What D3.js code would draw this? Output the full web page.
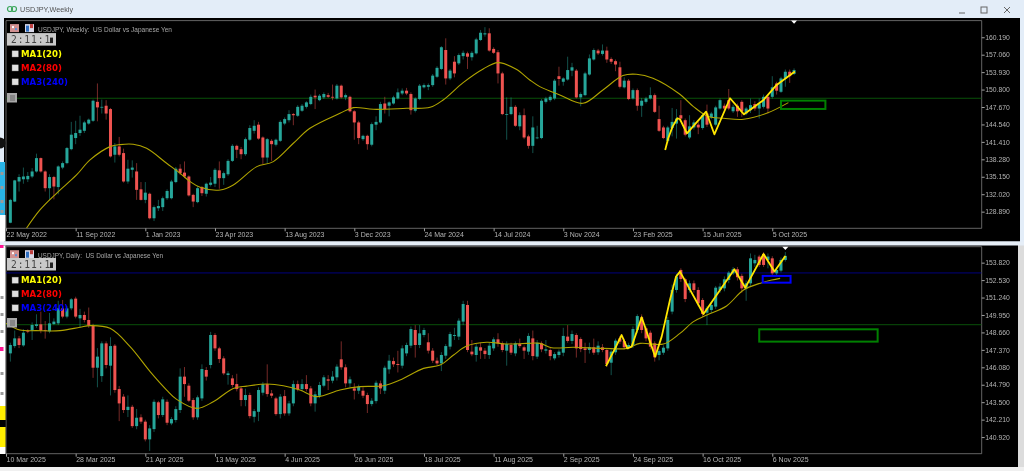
<!DOCTYPE html>
<html><head><meta charset="utf-8">
<script src="https://cdn.jsdelivr.net/npm/d3@7/dist/d3.min.js"></script>
<style>
html,body{margin:0;padding:0;background:#000;overflow:hidden}
svg{display:block;filter:blur(0.42px)}
text{font-family:"Liberation Sans",Arial,sans-serif}
</style></head><body>
<script>
// ---------- Weekly USDJPY candles (bar 1 .. 181) ----------
const weeklyOpen=[126.9,130.7,134.3,134.7,134.7,135.2,136.1,138.5,136.1,133.1,135.1,133.3,136.8,137.6,140.1,142.1,143.0,143.4,144.7,145.2,148.6,147.6,147.9,147.3,139.1,140.6,139.4,134.3,136.4,136.1,132.9,131.0,132.1,127.7,129.5,129.7,131.3,131.3,134.2,136.6,135.9,135.2,131.9,130.6,133.3,132.1,133.7,133.9,136.3,134.9,135.6,138.0,140.7,140.1,139.2,141.8,143.4,144.5,142.2,138.6,141.6,140.9,141.6,144.7,145.3,146.4,146.1,147.0,147.7,148.2,149.7,148.9,149.4,149.8,149.5,149.2,
151.5,149.4,149.5,146.9,144.9,141.9,142.5,140.9,144.5,144.9,148.3,147.9,148.3,149.2,150.1,150.6,150.0,147.0,149.1,151.2,151.3,151.6,153.1,154.5,157.9,152.8,155.8,155.5,156.8,157.3,156.6,157.3,159.7,160.7,160.9,158.1,157.5,153.7,146.3,146.4,147.7,144.2,146.2,142.4,140.7,142.2,142.1,148.6,148.9,149.2,153.2,152.2,152.6,154.2,154.2,149.4,149.8,153.5,156.2,157.8,157.2,157.8,156.3,155.9,154.8,151.2,152.4,149.2,150.7,147.9,148.6,149.2,149.8,145.5,144.0,141.6,143.9,144.7,
146.2,145.3,142.2,144.0,144.5,143.9,146.5,145.8,144.5,147.4,147.9,148.9,146.9,147.9,148.6,146.5,147.1,148.2,147.4,147.7,149.5,149.5,151.9,150.4,152.8,154.0,153.6];
const weeklyHigh=[131.2,134.6,135.6,136.8,136.0,136.7,139.3,138.6,136.3,135.6,135.3,137.2,137.9,140.5,145.0,145.2,146.1,145.2,145.6,149.0,151.9,149.0,148.9,147.5,141.2,142.3,140.2,138.2,138.1,137.6,134.2,134.2,132.3,130.0,131.0,131.6,132.9,134.6,136.9,137.4,137.9,135.4,132.1,133.5,133.5,134.1,135.1,136.7,137.9,136.1,138.3,141.0,140.9,140.5,142.2,144.4,145.3,145.0,142.4,142.1,141.9,142.0,145.3,145.8,147.1,146.6,148.0,148.2,148.7,149.9,150.8,150.0,150.3,150.2,151.7,151.8,
151.7,150.1,149.7,147.1,145.2,142.7,142.7,144.9,146.0,148.6,149.5,148.7,149.7,151.0,151.0,151.1,150.3,149.4,151.8,151.9,151.9,153.6,155.0,158.6,160.0,154.5,156.8,157.3,157.8,157.6,157.7,160.1,161.5,162.0,161.8,158.4,157.9,154.0,149.4,149.4,148.0,146.7,147.4,142.7,146.0,144.3,149.1,149.5,149.8,152.7,154.9,153.0,156.7,155.6,154.5,150.3,154.0,157.1,158.2,158.1,158.9,158.5,156.6,156.2,155.8,153.0,152.7,151.0,151.0,149.3,149.5,151.2,150.1,147.9,144.3,144.3,147.5,147.3,
148.9,145.6,146.2,145.3,145.0,146.6,148.1,146.8,147.9,149.2,148.3,150.9,148.1,148.3,148.9,147.7,149.2,148.7,149.2,149.9,149.8,153.2,152.2,153.1,154.4,154.4,154.6];
const weeklyLow=[126.8,130.6,132.5,133.9,134.2,134.9,135.9,135.9,132.5,130.9,131.1,132.0,136.5,137.4,139.9,141.0,142.5,143.0,144.5,145.0,145.1,146.5,145.4,138.6,137.7,138.8,134.1,133.9,135.0,131.0,130.9,130.4,127.5,127.2,129.0,129.0,131.0,131.1,134.0,135.5,134.9,131.6,129.7,130.4,131.7,131.6,133.4,133.3,133.0,133.7,135.3,137.8,138.5,138.3,138.9,141.6,142.9,141.8,137.4,137.5,138.0,140.6,141.4,144.4,144.9,144.4,145.9,146.8,147.4,148.0,147.3,148.7,149.1,149.3,148.9,149.0,
149.2,148.9,146.7,141.8,141.0,141.6,140.0,140.6,143.5,144.7,146.5,146.0,148.1,149.0,149.8,149.8,146.3,146.7,148.9,151.0,150.7,151.3,152.9,154.3,151.7,152.5,153.0,155.2,156.2,154.5,156.0,157.1,159.5,160.3,157.6,157.2,151.9,146.2,141.8,146.2,144.1,143.5,141.9,140.2,139.4,141.9,141.9,148.3,148.6,148.9,151.5,151.5,152.4,153.2,149.2,147.8,149.6,153.3,156.0,157.0,156.9,155.6,155.4,154.1,151.0,151.0,148.9,149.0,147.0,145.9,148.3,149.0,146.6,143.2,141.9,141.2,142.4,142.0,
145.4,142.4,141.9,143.6,142.8,143.6,144.1,145.5,144.2,147.2,147.0,147.1,146.6,145.9,145.9,146.2,146.6,147.0,145.6,147.4,146.5,149.2,149.9,150.2,151.3,152.0,153.4];
const weeklyClose=[131.0,134.5,135.1,135.2,135.3,136.1,138.5,136.1,133.1,135.1,133.4,137.0,137.6,140.3,142.7,143.0,143.6,144.9,145.4,148.8,147.6,147.7,146.5,138.8,140.6,139.1,134.3,136.6,136.8,132.8,131.0,132.3,127.7,129.7,129.9,131.3,132.6,134.3,136.6,135.8,135.2,131.8,130.7,133.1,132.2,133.9,134.1,136.4,134.9,135.8,138.0,140.7,140.0,139.2,141.9,143.9,144.3,142.0,138.6,141.9,141.0,141.8,145.0,145.5,146.4,146.2,147.7,147.9,148.5,149.5,149.4,149.7,150.0,149.5,149.4,151.5,
149.4,149.8,146.9,144.9,142.1,142.5,141.0,144.6,145.0,148.2,147.3,148.5,149.4,150.3,150.6,150.1,147.1,149.2,151.5,151.6,151.6,153.3,154.7,158.4,152.8,154.2,153.7,157.0,157.4,156.7,157.4,159.8,161.0,160.9,157.8,157.4,153.7,146.4,146.4,147.7,144.3,146.2,142.2,140.7,144.0,142.2,148.8,149.2,149.5,152.4,152.7,152.8,154.3,154.8,149.4,150.0,153.7,156.4,157.9,157.3,157.8,156.2,155.8,155.3,151.3,152.4,149.1,150.7,147.9,148.8,149.2,149.8,146.8,143.4,142.1,144.0,145.0,145.6,
145.6,142.7,144.2,144.9,144.0,146.2,144.5,146.5,147.6,148.9,147.4,147.4,147.7,146.9,146.9,147.4,148.0,147.4,148.3,149.5,147.4,151.2,150.6,152.8,154.0,153.2,154.3];
// ---------- Daily USDJPY candles (bar 1 .. 179) ----------
const dailyOpen=[147.11,147.65,148.22,147.70,148.79,148.79,149.14,149.26,148.84,148.74,149.28,149.33,150.44,149.83,150.44,151.16,149.70,149.95,149.58,149.16,146.05,145.43,147.85,146.20,147.68,144.47,143.91,142.92,143.16,141.73,142.38,142.06,140.75,141.51,143.49,142.55,143.53,141.93,142.18,142.92,145.39,144.72,143.66,142.38,143.78,145.88,146.25,148.47,147.48,146.74,145.51,145.26,144.84,144.52,143.66,144.03,142.42,142.79,144.20,144.84,144.15,143.78,142.62,143.95,142.67,143.41,144.84,144.47,144.84,144.52,143.41,143.98,144.72,145.19,145.09,145.34,
146.67,146.08,144.89,144.52,144.35,144.35,144.03,143.36,143.58,144.89,144.35,145.93,146.54,146.32,146.20,147.11,147.68,148.84,147.73,148.47,147.93,147.31,146.57,146.37,146.94,147.61,148.40,148.35,149.46,150.69,147.24,146.99,147.56,147.31,146.99,147.48,148.15,147.85,147.31,147.73,147.11,147.80,147.56,147.24,148.22,146.87,147.85,147.31,147.36,146.74,146.99,147.16,148.35,148.03,148.47,148.17,147.48,147.36,147.56,147.19,147.56,147.36,146.42,147.19,148.22,148.02,147.56,147.68,148.84,149.78,148.96,148.64,147.85,146.99,147.16,147.48,150.20,151.80,
153.28,152.59,151.80,152.29,151.80,151.06,150.12,150.32,150.57,151.80,151.92,152.54,153.03,153.33,152.84,151.92,152.29,153.77,154.27,154.46,154.02,154.14,153.03,153.23,154.02];
const dailyHigh=[147.9,148.8,148.4,148.9,148.9,149.4,150.0,150.2,149.5,150.1,149.7,151.0,151.06,150.6,151.2,151.3,150.4,150.2,150.5,149.3,147.5,148.0,148.0,148.3,147.8,144.7,144.1,144.0,143.3,143.0,142.6,142.2,141.8,143.7,143.6,143.9,143.7,142.4,143.2,146.0,146.1,144.9,143.8,144.0,146.3,146.1,148.7,148.6,147.6,146.9,145.8,145.5,145.6,144.7,144.5,144.2,143.0,144.6,145.0,146.3,144.4,143.9,144.1,144.4,143.6,145.1,145.1,145.2,145.5,144.7,144.3,145.0,145.5,145.5,145.8,146.3,
148.0,146.3,145.4,144.9,144.8,144.6,144.2,143.8,145.1,145.1,146.2,147.0,146.8,147.3,147.7,147.9,149.1,149.2,149.2,149.0,148.6,147.5,146.8,147.2,147.8,148.7,149.0,149.7,151.0,151.0,148.1,147.8,147.9,147.5,147.9,148.3,148.6,148.0,148.0,147.9,148.0,148.2,147.7,148.6,148.8,148.1,148.0,148.1,147.5,147.2,147.4,149.0,149.2,148.8,148.6,148.3,147.9,147.9,148.2,148.0,147.8,147.5,147.4,148.2,148.4,148.2,147.9,149.1,150.0,150.0,149.1,148.8,148.0,147.4,147.7,149.8,152.2,153.0,
153.4,152.7,152.5,152.5,152.0,151.2,150.6,150.9,152.1,152.3,152.8,153.2,153.5,153.5,153.0,152.5,154.5,154.4,154.4,154.6,154.5,154.3,153.5,154.2,154.6];
const dailyLow=[146.5,147.5,147.5,147.6,148.6,148.1,149.0,148.6,148.2,148.6,149.2,149.2,149.7,149.7,150.3,149.7,149.0,149.4,149.0,145.3,144.6,145.0,146.0,144.0,144.2,142.1,142.7,142.4,141.6,141.5,141.9,140.6,139.9,141.3,142.3,142.4,141.8,141.8,142.0,142.7,143.9,143.5,142.2,142.2,143.6,145.1,146.0,147.3,146.4,145.5,144.8,144.6,144.3,143.2,143.2,142.3,142.0,142.1,144.0,143.9,143.8,142.5,142.3,142.5,142.5,143.2,144.3,144.3,144.3,143.2,142.8,143.8,144.6,144.4,144.9,145.1,
145.9,144.6,144.6,143.7,144.1,143.8,142.7,143.2,143.4,144.1,144.1,145.6,146.1,145.7,146.0,146.9,147.5,146.8,147.5,148.3,147.1,146.4,146.2,145.8,146.7,147.4,148.1,148.1,149.2,147.2,146.9,146.5,146.7,146.7,146.7,147.3,147.6,147.2,146.2,147.0,146.9,147.5,146.7,147.0,146.6,146.7,147.2,147.1,146.6,146.6,146.8,146.9,147.9,147.8,146.8,147.2,146.4,147.1,147.0,147.0,147.2,146.1,145.5,147.0,147.8,147.4,147.4,147.5,148.6,148.6,148.0,147.4,146.5,146.6,147.0,147.3,150.0,151.6,
152.4,150.9,151.6,151.6,150.6,149.8,149.2,150.1,150.4,151.6,151.7,152.3,152.9,152.5,151.6,151.0,152.1,153.5,153.5,153.5,153.4,152.9,152.9,153.1,153.9];
const dailyClose=[147.73,148.22,147.73,148.64,148.72,149.21,149.26,148.79,148.79,149.33,149.46,150.44,149.83,150.44,151.11,149.83,149.95,149.58,149.18,146.05,146.87,147.85,146.25,147.65,144.40,143.41,142.92,143.16,141.73,142.35,142.06,140.75,141.56,143.53,142.55,143.71,141.98,142.25,142.99,145.39,144.84,143.61,142.38,143.86,145.95,145.39,148.47,147.48,146.69,145.63,145.63,144.77,144.47,143.66,144.03,142.47,142.84,144.40,144.84,144.10,143.98,142.62,143.91,142.67,143.41,144.84,144.47,144.84,144.47,143.41,144.08,144.77,145.34,145.09,145.39,146.13,
146.08,144.89,145.19,144.35,144.65,143.98,143.36,143.61,144.94,144.52,146.05,146.57,146.30,146.25,147.48,147.73,148.91,147.73,148.59,148.84,147.31,146.57,146.37,146.99,147.65,148.54,148.47,149.53,150.76,147.36,147.04,147.61,147.31,147.06,147.68,148.15,147.85,147.36,147.80,147.16,147.85,147.65,147.31,148.40,146.91,147.90,147.41,147.41,146.91,147.06,147.24,148.40,148.03,148.54,147.48,147.43,147.36,147.56,147.16,147.68,147.36,146.32,147.24,148.05,147.98,147.56,147.73,148.91,149.87,148.84,148.22,147.61,146.82,147.28,147.53,149.58,151.80,152.79,
152.61,151.13,152.29,151.80,150.81,150.02,150.44,150.69,151.97,152.05,152.59,153.08,153.33,152.74,151.92,152.29,154.14,154.02,153.65,153.65,154.27,153.03,153.28,154.02,154.32];
// ---------- Overlay lines ----------
const weeklyMABar=[4.7,7.8,11.6,16.2,19.3,23.9,26.2,29.2,32.3,36.9,40,42.3,44.6,49.2,52.2,57.6,61.4,66,69.8,76.7,79.8,84.4,92,97.4,100.4,105,109.6,113,117.2,120.3,122.6,127.2,132.5,137.1,141.7,144.8,148.6,154.7,157.9,161.3,164.8,169.4,174.7,179.7];
const weeklyMAValue=[125.9,129.19,132.18,135.47,138.17,140.56,140.92,140.98,140.26,137.57,135.77,134.28,133.26,132.78,133.68,136.97,137.87,141.16,143.85,146.54,147.56,147.26,147.44,147.62,148.94,152.05,154.5,155.64,154.44,152.53,151.33,149.84,148.34,150.73,153.31,153.55,152.83,150.0,147.74,145.95,145.65,145.47,146.54,148.46];
const dailyMABar=[0,3.2,7,12.4,17,19.3,23.9,28.5,33.1,36.9,39.2,43.8,47.6,52.2,55.3,59.9,63.7,67.5,71.4,76.7,81.3,86.7,90.5,95.9,99.7,102.8,105.8,110.4,115,119.6,122.7,125.3,130.3,137.2,142.6,145.6,151,154.8,157.9,161,165.5,169.4,173.6,175.9,177.8];
const dailyMAValue=[149.33,148.84,148.79,148.79,149.04,149.16,148.96,147.61,145.76,144.4,143.71,143.04,143.53,144.52,144.69,144.84,144.72,144.4,143.91,144.4,144.65,144.72,145.14,146.0,146.25,146.99,147.65,147.93,147.8,147.85,147.85,147.53,147.56,147.48,147.48,147.85,147.8,148.59,149.46,149.95,150.62,151.8,152.34,152.54,152.66];
const weeklyZigBar=[151.4,152.1,153.1,154.2,154.8,156.4,160.8,162.7,166.3,169.5,174,177,181.2];
const weeklyZigValue=[139.96,142.06,144.15,145.65,145.47,142.95,146.84,142.77,149.24,146.36,148.94,151.63,154.03];
const dailyZigBar=[137.8,139.9,141.4,142.7,143.7,146,149.1,150.6,152.5,153.9,154.8,160.2,167.3,169.8,174,176.5,179];
const dailyZigValue=[146.17,147.48,148.47,147.48,147.61,149.78,146.87,148.35,151.06,152.79,153.16,150.02,153.33,151.97,154.46,153.16,154.32];
// ---------- Axis labels ----------
const weeklyTickBars=[0,16,32,48,64,80,96,112,128,144,160,176];
const weeklyTickLabels=["22 May 2022","11 Sep 2022","1 Jan 2023","23 Apr 2023","13 Aug 2023","3 Dec 2023","24 Mar 2024","14 Jul 2024","3 Nov 2024","23 Feb 2025","15 Jun 2025","5 Oct 2025"];
const dailyTickBars=[0,16,32,48,64,80,96,112,128,144,160,176];
const dailyTickLabels=["10 Mar 2025","28 Mar 2025","21 Apr 2025","13 May 2025","4 Jun 2025","26 Jun 2025","18 Jul 2025","11 Aug 2025","2 Sep 2025","24 Sep 2025","16 Oct 2025","6 Nov 2025"];
const weeklyPriceTicks=[160.19,157.06,153.93,150.8,147.67,144.54,141.41,138.28,135.15,132.02,128.89];
const dailyPriceTicks=[153.82,152.53,151.24,149.95,148.66,147.37,146.08,144.79,143.5,142.21,140.92];
const maLabels=["MA1(20)","MA2(80)","MA3(240)"];
const maColors=["#ffff00","#ff0000","#0000ff"];

const W=1024,H=471;
const svg=d3.select("body").append("svg").attr("width",W).attr("height",H);
function rect(x,y,w,h,f){return svg.append("rect").attr("x",x).attr("y",y).attr("width",w).attr("height",h).attr("fill",f);}

// window chrome
rect(0,0,W,H,"#e3edf8");
rect(4,18,1016,223.5,"#000");
rect(0,241.5,W,4,"#e6eef7");
rect(0,245.5,1018,221.5,"#000");
rect(0,467,W,4,"#f0f0f0");
rect(1018,245.5,6,221.5,"#dcdcdc");

function panel(c){
  const x=d3.scaleLinear().domain([0,224.1]).range([6,981.7]);
  const y=d3.scaleLinear().domain(c.yDomain).range([c.bottom,c.top]);
  const g=svg.append("g");
  const clipId="clip"+c.name;
  g.append("clipPath").attr("id",clipId).append("rect").attr("x",6).attr("y",c.top).attr("width",975.7).attr("height",c.bottom-c.top);
  // frame
  g.append("path").attr("d",`M6,${c.top}H981.7V${c.bottom}H6V${c.top}`).attr("fill","none").attr("stroke","#7c7c7c").attr("stroke-width",0.8);
  // axes
  const ax=d3.axisBottom(x).tickValues(c.tickBars).tickFormat((d,i)=>c.tickLabels[i]).tickSize(3).tickSizeOuter(0);
  const ga=g.append("g").attr("transform",`translate(0,${c.bottom})`).call(ax);
  ga.select(".domain").remove();
  ga.selectAll("line").attr("stroke","#a0a0a0");
  ga.selectAll("text").attr("text-anchor","start").attr("y",3.5).attr("dy","0.71em").attr("fill","#b4b4b4").style("font-size","7px").style("font-family",'"Liberation Sans"');
  const ay=d3.axisRight(y).tickValues(c.priceTicks).tickFormat(d3.format(".3f")).tickSize(3).tickSizeOuter(0);
  const gy=g.append("g").attr("transform","translate(981.7,0)").call(ay);
  gy.select(".domain").remove();
  gy.selectAll("line").attr("stroke","#a0a0a0");
  gy.selectAll("text").attr("x",3.5).attr("fill","#b4b4b4").style("font-size","6.8px").style("font-family",'"Liberation Sans"');

  const p=g.append("g").attr("clip-path",`url(#${clipId})`);
  // horizontal levels
  c.levels.forEach(l=>p.append("line").attr("x1",6).attr("x2",981.7).attr("y1",y(l.v)).attr("y2",y(l.v)).attr("stroke",l.color).attr("stroke-width",0.9));
  const bars=d3.range(c.open.length);
  const col=i=>c.close[i]>=c.open[i]?"#26a69a":"#ef5350";
  p.selectAll("line.w").data(bars).join("line").attr("class","w")
    .attr("x1",i=>x(i+1)).attr("x2",i=>x(i+1))
    .attr("y1",i=>y(c.high[i])).attr("y2",i=>y(c.low[i]))
    .attr("stroke",col).attr("stroke-opacity",0.55).attr("stroke-width",0.9);
  p.selectAll("rect.b").data(bars).join("rect").attr("class","b")
    .attr("x",i=>x(i+1)-1.5).attr("width",3)
    .attr("y",i=>y(Math.max(c.open[i],c.close[i])))
    .attr("height",i=>Math.max(0.8,Math.abs(y(c.open[i])-y(c.close[i]))))
    .attr("fill",col);
  // moving average
  p.append("path").attr("fill","none").attr("stroke","#b0a400").attr("stroke-width",1.1)
    .attr("d",d3.line().x(d=>x(d[0])).y(d=>y(d[1])).curve(d3.curveCatmullRom.alpha(0.5))(c.maBar.map((b,i)=>[b,c.maValue[i]])));
  // zigzag
  p.append("path").attr("fill","none").attr("stroke","#ffe600").attr("stroke-width",1.8).attr("stroke-linejoin","round")
    .attr("d",d3.line().x(d=>x(d[0])).y(d=>y(d[1]))(c.zigBar.map((b,i)=>[b,c.zigValue[i]])));
  // zones
  c.boxes.forEach(b=>p.append("rect").attr("x",x(b.b0)).attr("width",x(b.b1)-x(b.b0)).attr("y",y(b.hi)).attr("height",y(b.lo)-y(b.hi))
    .attr("fill","none").attr("stroke",b.color).attr("stroke-width",2));
  // last bar marker
  const mx=x(c.lastBar);
  g.append("path").attr("d",`M${mx-3},${c.top}H${mx+3}L${mx},${c.top+3.2}Z`).attr("fill","#fff");

  // header
  const o=c.top;
  svg.append("text").attr("x",38).attr("y",o+11.2).attr("fill","#a8a8a8").style("font-size","7.2px").attr("xml:space","preserve")
    .attr("textLength",c.titleLen).attr("lengthAdjust","spacingAndGlyphs").text(c.title);
  // small icons
  rect(10,o+3.5,9,8,"#e8a0a0").attr("opacity",.9); rect(12,o+5.5,2,2,"#fff"); rect(15,o+7.5,2,2,"#5b8ed6");
  rect(25,o+3.5,9,8,"#d8d8e8"); rect(26,o+5,3,6,"#2f6fc0"); rect(30,o+3.5,3,4,"#c04040");
  // clock
  rect(7,o+c.clockOff,49,12.5,"#c9c9c9");
  svg.append("text").attr("x",11).attr("y",o+c.clockOff+9.8).attr("fill","#444").style("font-size","9.6px").style("letter-spacing","0.9px").style("font-family",'"DejaVu Sans Mono"').text("2:11:1");
  rect(50,o+c.clockOff+4.5,3,5.5,"#222");
  c.labelY.forEach((ly,i)=>{
    rect(12,ly-3.2,6.4,6.2,"#e0e0e0").attr("stroke","#777").attr("stroke-width",.4);
    svg.append("text").attr("x",21).attr("y",ly+3.1).attr("fill",maColors[i]).style("font-size","8.6px").style("font-weight","bold").style("font-family",'"DejaVu Sans"').text(maLabels[i]);
  });
  rect(7,c.iconY,10,9.5,"#a8a8a8");
  rect(10,c.iconY+2,5,6,"#777").attr("opacity",.7);
}

panel({name:"w",top:20.6,bottom:228.3,yDomain:[125.9,163.18],open:weeklyOpen,high:weeklyHigh,low:weeklyLow,close:weeklyClose,
  tickBars:weeklyTickBars,tickLabels:weeklyTickLabels,priceTicks:weeklyPriceTicks,
  levels:[{v:149.24,color:"#0a5a0a"}],maBar:weeklyMABar,maValue:weeklyMAValue,zigBar:weeklyZigBar,zigValue:weeklyZigValue,
  boxes:[{b0:178,b1:188.2,hi:148.82,lo:147.32,color:"#008000"}],lastBar:181,
  title:"USDJPY, Weekly:  US Dollar vs Japanese Yen",titleLen:134,clockOff:12.5,labelY:[54,68,82],iconY:93});
panel({name:"d",top:246.7,bottom:453.7,yDomain:[139.69,155.0],open:dailyOpen,high:dailyHigh,low:dailyLow,close:dailyClose,
  tickBars:dailyTickBars,tickLabels:dailyTickLabels,priceTicks:dailyPriceTicks,
  levels:[{v:149.23,color:"#0a5a0a"},{v:153.06,color:"#00008c"}],maBar:dailyMABar,maValue:dailyMAValue,zigBar:dailyZigBar,zigValue:dailyZigValue,
  boxes:[{b0:173,b1:200.2,hi:148.89,lo:147.98,color:"#008000"},{b0:173.8,b1:180.2,hi:152.84,lo:152.34,color:"#0000ff"}],lastBar:179,
  title:"USDJPY, Daily:  US Dollar vs Japanese Yen",titleLen:125,clockOff:11.3,labelY:[280.3,294,308],iconY:318});

// title bar
svg.append("text").attr("x",20).attr("y",12).attr("fill","#505050").style("font-size","8px").attr("textLength",53).attr("lengthAdjust","spacingAndGlyphs").text("USDJPY,Weekly");
svg.append("circle").attr("cx",10).attr("cy",9).attr("r",2.5).attr("fill","none").attr("stroke","#3aa65a").attr("stroke-width",1.2);
svg.append("circle").attr("cx",14).attr("cy",9).attr("r",2.5).attr("fill","none").attr("stroke","#3aa65a").attr("stroke-width",1.2);
svg.append("path").attr("d","M959,13H965").attr("stroke","#666").attr("stroke-width",1);
svg.append("rect").attr("x",981).attr("y",7).attr("width",6).attr("height",6).attr("fill","none").attr("stroke","#666");
svg.append("path").attr("d","M1004,7L1010,13M1010,7L1004,13").attr("stroke","#666").attr("stroke-width",1);

// left toolbar fragments over the charts
rect(0,162,5,53,"#29b4e6");
rect(0,215,5.5,26.5,"#fff");
rect(0,245.5,5.5,160.5,"#fff");
rect(0,406,5.5,14,"#ffee00");
rect(0,420,5.5,7,"#000");
rect(0,427,5.5,20,"#ffee00");
rect(0,447,5.5,7,"#fff");
rect(0,347,3.5,4,"#ff1493");
rect(0,245,3.5,3,"#ff1493");
[172,186,200,210,296,313,330,372,392].forEach(v=>rect(0.5,v,3,3,"#9a9a9a"));
svg.append("circle").attr("cx",0).attr("cy",143).attr("r",5.5).attr("fill","#111");
</script>
</body></html>
